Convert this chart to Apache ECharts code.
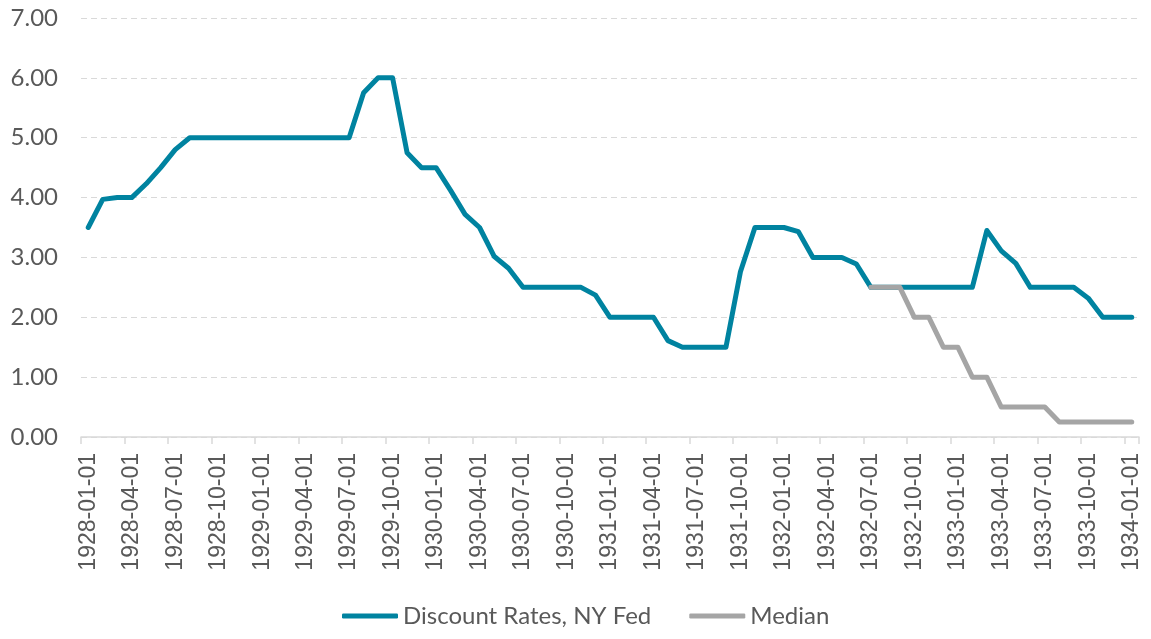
<!DOCTYPE html>
<html>
<head>
<meta charset="utf-8">
<script src="https://cdn.jsdelivr.net/npm/echarts@6/dist/echarts.min.js"></script>
<style>
html, body { margin: 0; padding: 0; background: #fff; }
#chartLine { width: 1151px; height: 639px; }
</style>
</head>
<body>
<div id="chartLine"></div>
<script>
// monthly categories, 1928-01 .. 1934-01
var months = [
  '1928-01-01','1928-02-01','1928-03-01','1928-04-01','1928-05-01','1928-06-01','1928-07-01','1928-08-01','1928-09-01','1928-10-01','1928-11-01','1928-12-01',
  '1929-01-01','1929-02-01','1929-03-01','1929-04-01','1929-05-01','1929-06-01','1929-07-01','1929-08-01','1929-09-01','1929-10-01','1929-11-01','1929-12-01',
  '1930-01-01','1930-02-01','1930-03-01','1930-04-01','1930-05-01','1930-06-01','1930-07-01','1930-08-01','1930-09-01','1930-10-01','1930-11-01','1930-12-01',
  '1931-01-01','1931-02-01','1931-03-01','1931-04-01','1931-05-01','1931-06-01','1931-07-01','1931-08-01','1931-09-01','1931-10-01','1931-11-01','1931-12-01',
  '1932-01-01','1932-02-01','1932-03-01','1932-04-01','1932-05-01','1932-06-01','1932-07-01','1932-08-01','1932-09-01','1932-10-01','1932-11-01','1932-12-01',
  '1933-01-01','1933-02-01','1933-03-01','1933-04-01','1933-05-01','1933-06-01','1933-07-01','1933-08-01','1933-09-01','1933-10-01','1933-11-01','1933-12-01',
  '1934-01-01'
];

var discountName = 'Discount Rates, NY Fed';
var discountRates = [
  3.5, 3.97, 4.0, 4.0, 4.23, 4.5, 4.8, 5.0, 5.0, 5.0, 5.0, 5.0,
  5.0, 5.0, 5.0, 5.0, 5.0, 5.0, 5.0, 5.75, 6.0, 6.0, 4.75, 4.5,
  4.5, 4.12, 3.72, 3.5, 3.02, 2.82, 2.5, 2.5, 2.5, 2.5, 2.5, 2.37,
  2.0, 2.0, 2.0, 2.0, 1.61, 1.5, 1.5, 1.5, 1.5, 2.76, 3.5, 3.5,
  3.5, 3.43, 3.0, 3.0, 3.0, 2.89, 2.5, 2.5, 2.5, 2.5, 2.5, 2.5,
  2.5, 2.5, 3.45, 3.11, 2.9, 2.5, 2.5, 2.5, 2.5, 2.32, 2.0, 2.0,
  2.0
];

var medianName = 'Median';
var medianRates = [
  null, null, null, null, null, null, null, null, null, null, null, null,
  null, null, null, null, null, null, null, null, null, null, null, null,
  null, null, null, null, null, null, null, null, null, null, null, null,
  null, null, null, null, null, null, null, null, null, null, null, null,
  null, null, null, null, null, null, 2.5, 2.5, 2.5, 2.0, 2.0, 1.5,
  1.5, 1.0, 1.0, 0.5, 0.5, 0.5, 0.5, 0.25, 0.25, 0.25, 0.25, 0.25,
  0.25
];

var yTicks = [0, 1, 2, 3, 4, 5, 6, 7];

var myChart = echarts.init(document.getElementById('chartLine'));
var option = {
  backgroundColor: '#fff',
  animation: false,
  legend: {
    data: [discountName, medianName],
    bottom: 6,
    left: 337,
    itemWidth: 56,
    itemHeight: 5,
    itemGap: 38,
    icon: 'roundRect',
    textStyle: {
      color: '#595959',
      fontFamily: 'Lato',
      fontSize: 24
    }
  },
  grid: {
    top: 18,
    left: 81,
    right: 12,
    bottom: 202
  },
  xAxis: [{
    type: 'category',
    boundaryGap: true,
    data: months,
    axisLine: {
      show: true,
      lineStyle: { color: '#D9D9D9', width: 1.5 }
    },
    axisTick: {
      show: true,
      interval: 2,
      alignWithLabel: false,
      length: 7,
      lineStyle: { color: '#D9D9D9', width: 1.5 }
    },
    axisLabel: {
      interval: 2,
      rotate: 90,
      margin: 16,
      color: '#595959',
      fontFamily: 'Liberation Sans',
      fontSize: 23
    },
    splitLine: { show: false }
  }],
  yAxis: [{
    type: 'value',
    min: yTicks[0],
    max: yTicks[yTicks.length - 1],
    interval: 1,
    axisLine: { show: false },
    axisTick: { show: false },
    axisLabel: {
      margin: 23,
      color: '#595959',
      fontFamily: 'Lato',
      fontSize: 24,
      formatter: function (v) { return v.toFixed(2); }
    },
    splitLine: {
      show: true,
      lineStyle: { color: '#D9D9D9', type: [6, 4], width: 1 }
    }
  }],
  series: [
    {
      name: discountName,
      type: 'line',
      data: discountRates,
      symbol: 'none',
      color: '#0083A0',
      lineStyle: { color: '#0083A0', width: 5, cap: 'round', join: 'round' }
    },
    {
      name: medianName,
      type: 'line',
      data: medianRates,
      symbol: 'none',
      color: '#A5A5A5',
      lineStyle: { color: '#A5A5A5', width: 5, cap: 'round', join: 'round' }
    }
  ]
};
myChart.setOption(option);
</script>
</body>
</html>
